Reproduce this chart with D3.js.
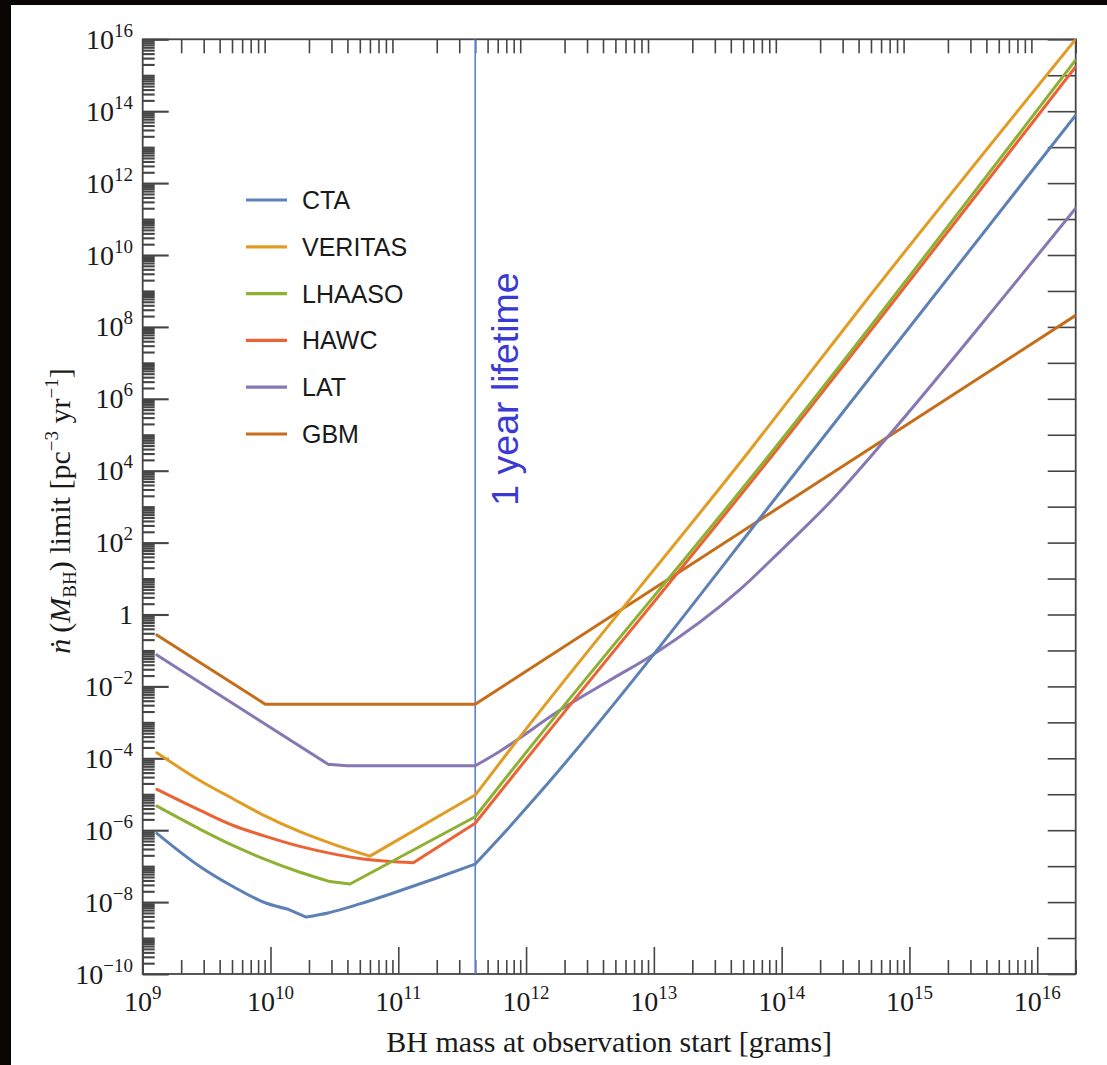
<!DOCTYPE html>
<html>
<head>
<meta charset="utf-8">
<script src="https://cdn.jsdelivr.net/npm/d3@7"></script>
<style>
  html, body { margin: 0; padding: 0; background: #ffffff; }
  svg { display: block; }
</style>
</head>
<body>
<svg id="chart" width="1107" height="1065"></svg>
<script>
// ---- data: PBH burst-rate upper limits vs. BH mass ----
const seriesNames  = ["CTA", "VERITAS", "LHAASO", "HAWC", "LAT", "GBM"];
const seriesColors = ["#5E81B5", "#E19C24", "#8FB032", "#EB6235", "#8778B3", "#C56E1A"];

// masses [g], limits [pc^-3 yr^-1]; *Corners lists the masses where a curve bends sharply
const ctaMass    = [1.29e9, 2.82e9, 5.12e9, 9.3e9, 1.38e10, 1.9e10, 2.82e10, 5.0e10, 1e11, 2e11, 4e11, 7.45e11, 1.14e12, 1.77e14, 2e16];
const ctaLimit   = [8.2e-7, 9.66e-8, 2.68e-8, 9.27e-9, 6.3e-9, 3.85e-9, 5.0e-9, 8.9e-9, 2.0e-8, 4.68e-8, 1.15e-7, 1.25e-6, 6.9e-6, 3.77e4, 7.8e13];
const ctaCorners = [1.38e10, 1.9e10, 4e11];

const veritasMass    = [1.29e9, 2.82e9, 5.12e9, 8.79e9, 1.7e10, 3.16e10, 6.0e10, 4e11, 7.45e11, 5.66e13, 4.62e14, 2e16];
const veritasLimit   = [1.43e-4, 2.37e-5, 7.4e-6, 2.63e-6, 9.1e-7, 3.98e-7, 1.9e-7, 9.5e-6, 1.7e-4, 3.77e4, 5.6e8, 1e16];
const veritasCorners = [6.0e10, 4e11];

const lhaasoMass    = [1.29e9, 2.82e9, 5.12e9, 8.79e9, 1.7e10, 2.92e10, 4.19e10, 4e11, 7.45e11, 8.61e13, 2e16];
const lhaasoLimit   = [4.68e-6, 1.06e-6, 3.72e-7, 1.62e-7, 6.76e-8, 3.72e-8, 3.18e-8, 2.37e-6, 3.9e-5, 3.77e4, 2.65e15];
const lhaasoCorners = [2.92e10, 4.19e10, 4e11];

const hawcMass    = [1.29e9, 2.82e9, 5.12e9, 8.79e9, 1.7e10, 3.3e10, 5.32e10, 1.31e11, 4e11, 7.45e11, 9.14e13, 2e16];
const hawcLimit   = [1.37e-5, 3.55e-6, 1.35e-6, 7.08e-7, 3.55e-7, 2.09e-7, 1.58e-7, 1.25e-7, 1.56e-6, 2.5e-5, 3.77e4, 1.74e15];
const hawcCorners = [1.31e11, 4e11];

const latMass    = [1.29e9, 2.83e10, 3.94e10, 4e11, 6.25e11, 1.85e12, 4.55e12, 9.7e12, 4.73e13, 1e14, 2.51e14, 6.43e14, 5.37e15, 2e16];
const latLimit   = [7.5e-2, 6.8e-5, 6.2e-5, 6.2e-5, 1.58e-4, 2.2e-3, 1.5e-2, 7.4e-2, 5.0, 63, 1.6e3, 7.1e4, 6.3e8, 2e11];
const latCorners = [2.83e10, 3.94e10, 4e11];

const gbmMass    = [1.29e9, 9.1e9, 4e11, 2e16];
const gbmLimit   = [0.27, 3.2e-3, 3.2e-3, 2.1e8];
const gbmCorners = [9.1e9, 4e11];

const xTickExponents = [9, 10, 11, 12, 13, 14, 15, 16];
const yTickExponents = [16, 14, 12, 10, 8, 6, 4, 2, 0, -2, -4, -6, -8, -10];
const lifetimeMass = 4e11;   // mass whose lifetime equals one year
const lifetimeLabel = "1 year lifetime";
const xTitle = "BH mass at observation start [grams]";

const masses  = [ctaMass, veritasMass, lhaasoMass, hawcMass, latMass, gbmMass];
const limits  = [ctaLimit, veritasLimit, lhaasoLimit, hawcLimit, latLimit, gbmLimit];
const corners = [ctaCorners, veritasCorners, lhaasoCorners, hawcCorners, latCorners, gbmCorners];

// ---- layout ----
const W = 1107, H = 1065;
const plot = { left: 142.7, right: 1075.7, top: 39.3, bottom: 974 };
const frameColor = "#454545";
const serif = "'Liberation Serif', 'Times New Roman', 'DejaVu Serif', serif";
const sans  = "'Liberation Sans', Arial, Helvetica, sans-serif";

const svg = d3.select("#chart");

// page background with dark strips along the left and top edges
svg.append("rect").attr("x", 0).attr("y", 0).attr("width", W).attr("height", H).attr("fill", "#ffffff");
svg.append("rect").attr("x", 0).attr("y", 0).attr("width", 11).attr("height", H).attr("fill", "#0b0606");
svg.append("rect").attr("x", 0).attr("y", 0).attr("width", W).attr("height", 5).attr("fill", "#0b0606");

const x = d3.scaleLog().domain([1e9, 2e16]).range([plot.left, plot.right]);
const y = d3.scaleLog().domain([1e-10, 1e16]).range([plot.bottom, plot.top]);

// ---- tick sets ----
const yMinor = [], yMajor = [], yDecade = [];
for (let e = -10; e <= 16; e++) {
  yDecade.push(Math.pow(10, e));
  if (e % 2 === 0) yMajor.push(Math.pow(10, e));
  if (e < 16) for (let k = (e % 2 === 0 ? 2 : 1); k <= 9; k++) yMinor.push(k * Math.pow(10, e));
}
const xMinor = [], xMajor = [];
for (let e = 9; e <= 16; e++) {
  xMajor.push(Math.pow(10, e));
  for (let k = 2; k <= 9; k++) { const v = k * Math.pow(10, e); if (v <= 2e16) xMinor.push(v); }
}

function tickGroup(axis, tx, ty, width) {
  const g = svg.append("g").attr("transform", `translate(${tx},${ty})`).call(axis);
  g.select(".domain").remove();
  g.selectAll(".tick line").attr("stroke", frameColor).attr("stroke-width", width || 1.6);
  g.selectAll(".tick text").remove();
  return g;
}

// left axis: dense minor ticks + long ticks every second decade
tickGroup(d3.axisLeft(y).tickValues(yMinor).tickSize(-12).tickFormat(""), plot.left, 0, 2.1);
tickGroup(d3.axisLeft(y).tickValues(yMajor).tickSize(-26).tickFormat(""), plot.left, 0, 2.1);
// right axis: one tick per decade
tickGroup(d3.axisRight(y).tickValues(yDecade).tickSize(-28).tickFormat(""), plot.right, 0);
// bottom axis: minor and decade ticks
tickGroup(d3.axisBottom(x).tickValues(xMinor).tickSize(-14).tickFormat(""), 0, plot.bottom);
tickGroup(d3.axisBottom(x).tickValues(xMajor).tickSize(-27).tickFormat(""), 0, plot.bottom);
// top axis: minor ticks only
tickGroup(d3.axisTop(x).tickValues(xMinor).tickSize(-14).tickFormat(""), 0, plot.top);

// frame
svg.append("rect")
  .attr("x", plot.left).attr("y", plot.top)
  .attr("width", plot.right - plot.left).attr("height", plot.bottom - plot.top)
  .attr("fill", "none").attr("stroke", frameColor).attr("stroke-width", 1.8);

// ---- tick labels ----
function powerLabel(sel, exp) {
  if (exp === 0) { sel.append("tspan").text("1"); return; }
  sel.append("tspan").text("10");
  sel.append("tspan").attr("dy", -12).attr("font-size", 19)
     .text(exp < 0 ? "\u2212" + Math.abs(exp) : String(exp));
}

yTickExponents.forEach(e => {
  const t = svg.append("text")
    .attr("x", 133).attr("y", y(Math.pow(10, e)) + 9.5)
    .attr("text-anchor", "end")
    .attr("font-family", serif).attr("font-size", 28).attr("fill", "#1a1a1a");
  powerLabel(t, e);
});

xTickExponents.forEach(e => {
  const t = svg.append("text")
    .attr("x", x(Math.pow(10, e))).attr("y", 1011)
    .attr("text-anchor", "middle")
    .attr("font-family", serif).attr("font-size", 28).attr("fill", "#1a1a1a");
  powerLabel(t, e);
});

// ---- axis titles ----
svg.append("text")
  .attr("x", (plot.left + plot.right) / 2).attr("y", 1052)
  .attr("text-anchor", "middle")
  .attr("font-family", serif).attr("font-size", 30).attr("fill", "#1a1a1a")
  .text(xTitle);

const yt = svg.append("text")
  .attr("transform", "translate(70,511) rotate(-90)")
  .attr("text-anchor", "middle")
  .attr("font-family", serif).attr("font-size", 30).attr("fill", "#1a1a1a");
yt.append("tspan").attr("font-style", "italic").text("\u1E45");
yt.append("tspan").text("\u2009(");
yt.append("tspan").attr("font-style", "italic").text("M");
yt.append("tspan").attr("font-size", 19).attr("dy", 6).text("BH");
yt.append("tspan").attr("dy", -6).text(") limit [pc");
yt.append("tspan").attr("font-size", 19).attr("dy", -12).text("\u22123");
yt.append("tspan").attr("dy", 12).text(" yr");
yt.append("tspan").attr("font-size", 19).attr("dy", -12).text("\u22121");
yt.append("tspan").attr("dy", 12).text("]");

// ---- curves ----
svg.append("clipPath").attr("id", "plot-clip")
  .append("rect")
  .attr("x", plot.left).attr("y", plot.top)
  .attr("width", plot.right - plot.left).attr("height", plot.bottom - plot.top);

const smooth = d3.line().x(d => x(d[0])).y(d => y(d[1])).curve(d3.curveMonotoneX);
const curves = svg.append("g").attr("clip-path", "url(#plot-clip)");

// one-year-lifetime marker
curves.append("line")
  .attr("x1", x(lifetimeMass)).attr("x2", x(lifetimeMass))
  .attr("y1", plot.top).attr("y2", plot.bottom)
  .attr("stroke", "#5b80d8").attr("stroke-width", 1.6);

// each series is smooth between its corner masses and bends sharply at them
function pieces(ms, ls, cs) {
  const out = [];
  let cur = [];
  ms.forEach((m, j) => {
    cur.push([m, ls[j]]);
    if (cs.includes(m) && j > 0 && j < ms.length - 1) { out.push(cur); cur = [[m, ls[j]]]; }
  });
  out.push(cur);
  return out;
}

// draw from the back: GBM first, CTA last
for (let i = seriesNames.length - 1; i >= 0; i--) {
  const d = pieces(masses[i], limits[i], corners[i]).map(p => smooth(p)).join("");
  curves.append("path")
    .attr("d", d)
    .attr("fill", "none")
    .attr("stroke", seriesColors[i])
    .attr("stroke-width", 3)
    .attr("stroke-linejoin", "round")
    .attr("stroke-linecap", "round");
}

svg.append("text")
  .attr("transform", `translate(${x(lifetimeMass) + 43},389) rotate(-90)`)
  .attr("text-anchor", "middle")
  .attr("font-family", sans).attr("font-size", 37.5).attr("fill", "#3a3ad2")
  .text(lifetimeLabel);

// ---- legend ----
const legend = svg.append("g").attr("transform", "translate(246,200)");
seriesNames.forEach((name, i) => {
  const g = legend.append("g").attr("transform", `translate(0,${i * 46.8})`);
  g.append("line").attr("x1", 0).attr("x2", 41).attr("y1", 0).attr("y2", 0)
    .attr("stroke", seriesColors[i]).attr("stroke-width", 3.2);
  g.append("text").attr("x", 56).attr("y", 9)
    .attr("font-family", sans).attr("font-size", 25).attr("fill", "#1a1a1a")
    .text(name);
});
</script>
</body>
</html>
